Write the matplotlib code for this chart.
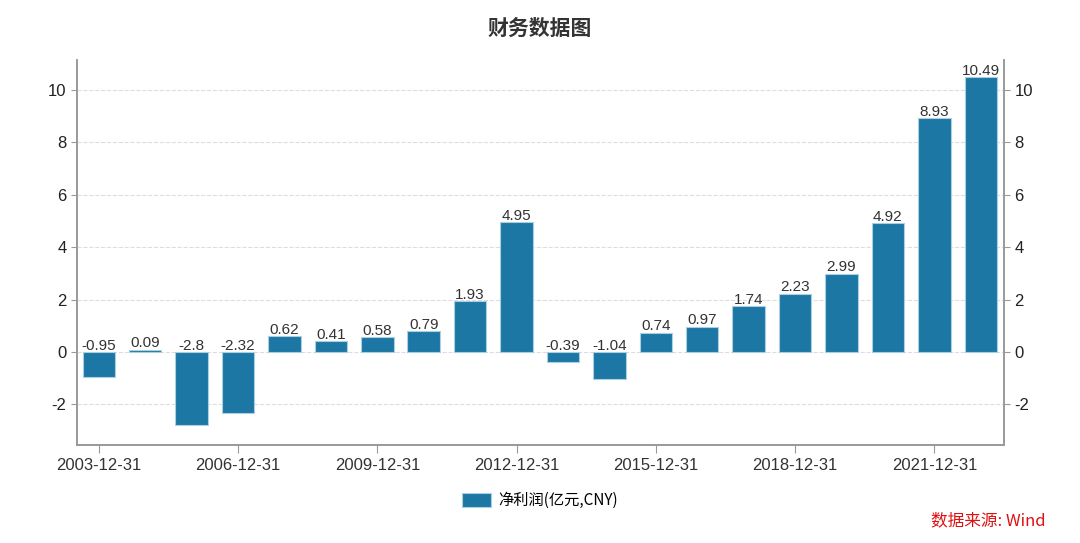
import matplotlib.pyplot as plt
import numpy as np

plt.rcParams['font.family'] = ['Noto Sans CJK SC', 'DejaVu Sans']
plt.rcParams['axes.unicode_minus'] = False

years = [f'{y}-12-31' for y in range(2003, 2023)]
profit = [-0.95, 0.09, -2.8, -2.32, 0.62, 0.41, 0.58, 0.79, 1.93, 4.95,
          -0.39, -1.04, 0.74, 0.97, 1.74, 2.23, 2.99, 4.92, 8.93, 10.49]
labels = ['-0.95', '0.09', '-2.8', '-2.32', '0.62', '0.41', '0.58', '0.79', '1.93', '4.95',
          '-0.39', '-1.04', '0.74', '0.97', '1.74', '2.23', '2.99', '4.92', '8.93', '10.49']

num_font = ['Liberation Sans', 'DejaVu Sans']
color = '#1c77a4'
fig = plt.figure(figsize=(10.8, 5.43), dpi=100)
ax = fig.add_axes([0.0713, 0.1805, 0.8583, 0.709])

x = np.arange(len(years))
ax.bar(x, profit, width=0.7, color=color, edgecolor='#a9cfe0', linewidth=0.8,
       label='净利润(亿元,CNY)', zorder=3)
for xi, v, s in zip(x, profit, labels):
    yy = max(v, 0)
    ax.text(xi, yy - 0.03, s, ha='center', va='bottom', fontsize=11,
            color='#333333', family=num_font)

ax.set_xlim(-0.47, 19.5)
ax.set_ylim(-3.55, 11.15)
ax.set_xticks(x[::3])
ax.set_xticklabels(years[::3], fontsize=12, color='#333333', family=num_font)
ax.set_yticks(range(-2, 11, 2))
ax.tick_params(axis='x', length=6, color='#999999', direction='out')
ax.tick_params(axis='y', length=4, color='#999999', labelsize=12, labelcolor='#222222')
for t in ax.get_yticklabels():
    t.set_family(num_font)
ax.grid(axis='y', color='#dddddd', linestyle='--', linewidth=0.8, zorder=0)

ax2 = ax.twinx()
ax2.set_ylim(ax.get_ylim())
ax2.set_yticks(range(-2, 11, 2))
ax2.tick_params(axis='y', length=4, color='#999999', labelsize=12, labelcolor='#222222')
for t in ax2.get_yticklabels():
    t.set_family(num_font)

for a in (ax, ax2):
    a.spines['top'].set_visible(False)
    for s in ('left', 'right', 'bottom'):
        a.spines[s].set_color('#999999')
        a.spines[s].set_linewidth(1.2)

fig.text(0.5, 0.948, '财务数据图', ha='center', va='center', fontsize=15,
         fontweight='bold', color='#333333')
fig.legend(loc='center', bbox_to_anchor=(0.5, 0.078), frameon=False, fontsize=11,
           handlelength=1.9, handleheight=1.1, handletextpad=0.5)
fig.text(0.968, 0.04, '数据来源: Wind', ha='right', va='center', fontsize=12, color='#dd1111')

fig.savefig('out.png', dpi=100)
